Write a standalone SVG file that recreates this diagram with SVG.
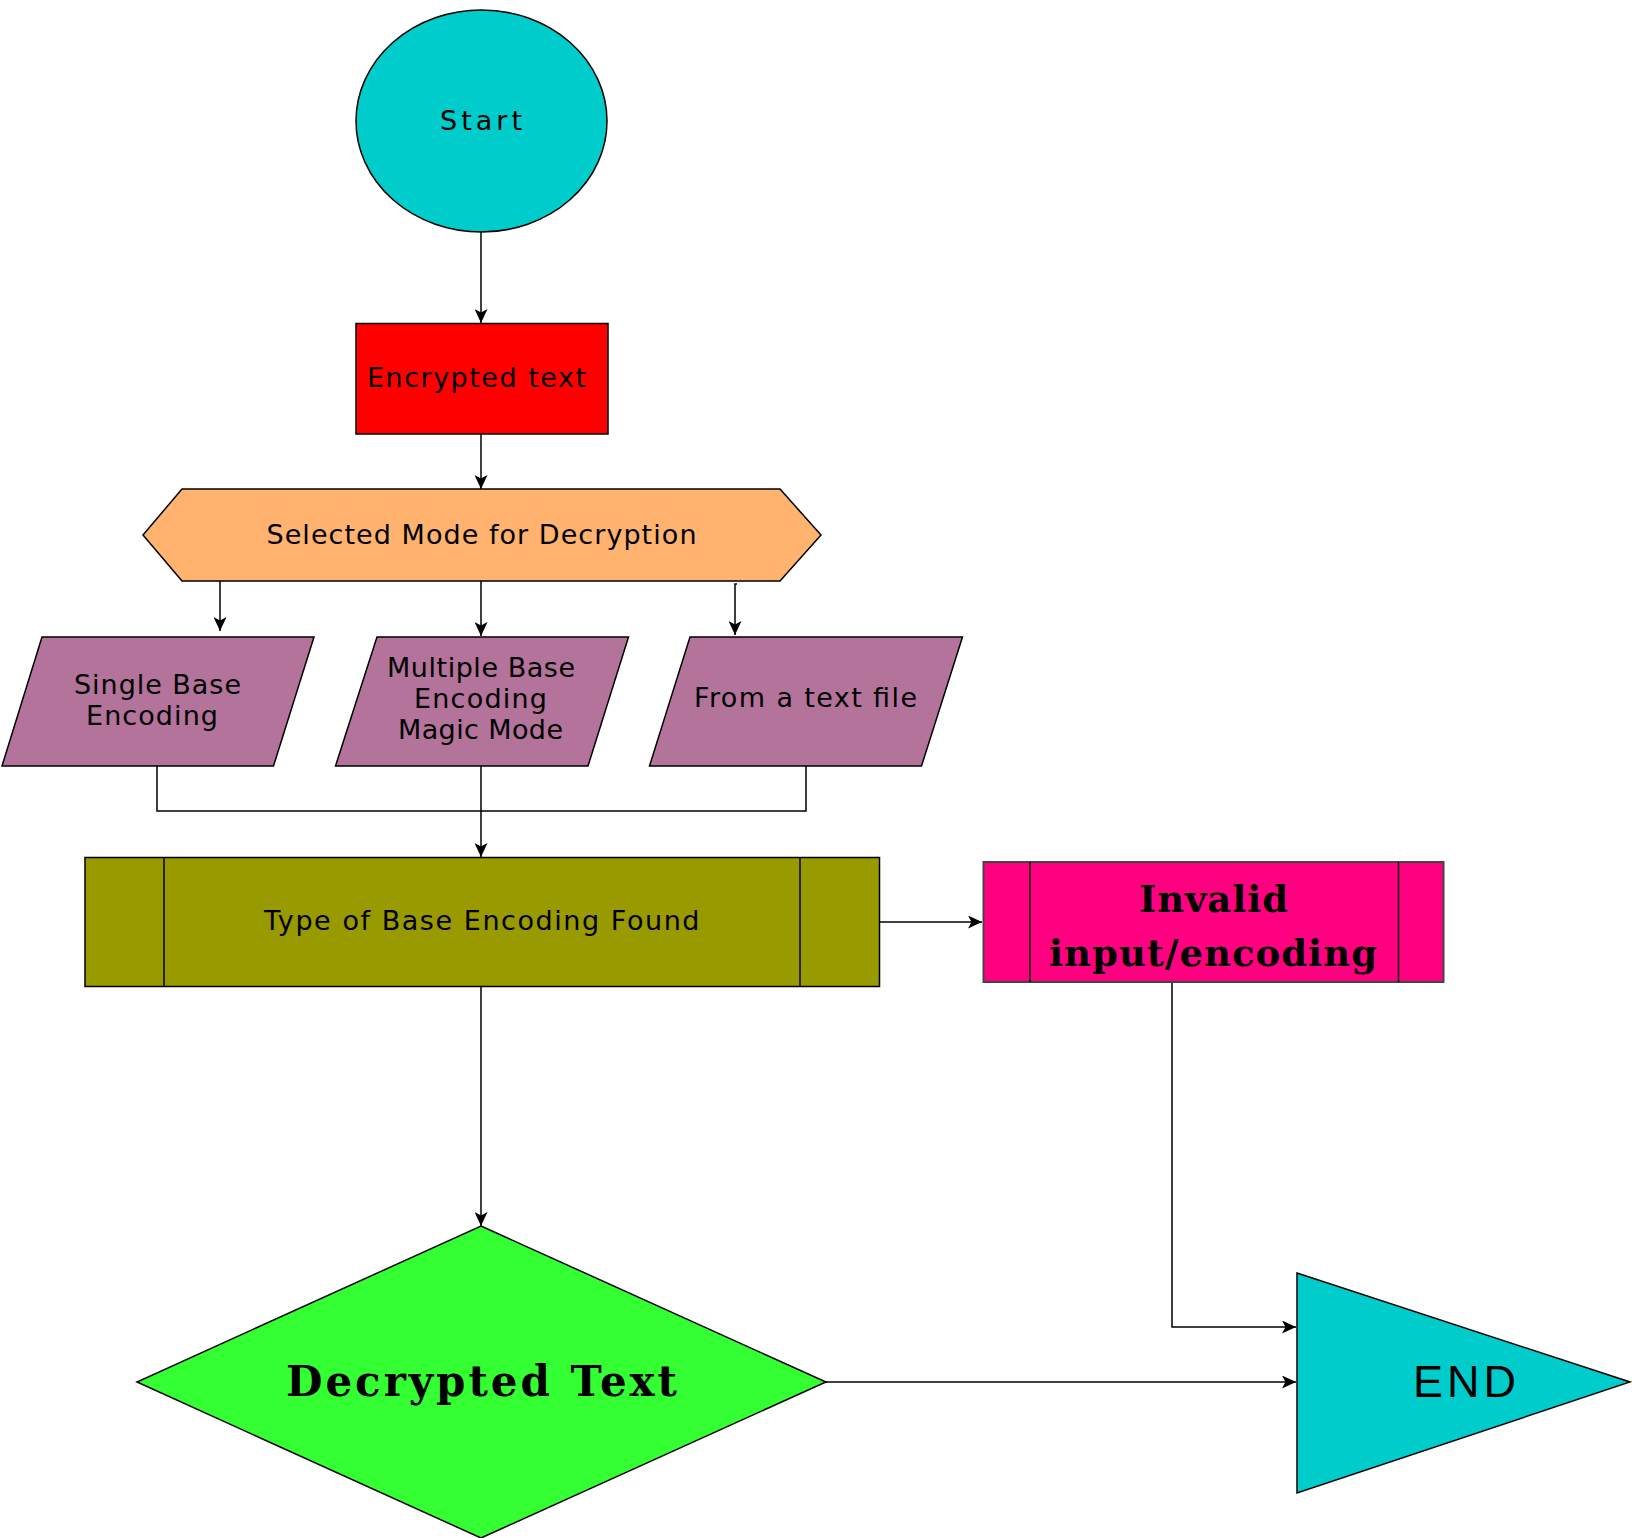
<svg xmlns="http://www.w3.org/2000/svg" width="1632" height="1538" viewBox="0 0 1632 1538">
<style>
.shape{stroke:#000;stroke-width:1.5}
.sans{font-family:"DejaVu Sans","Verdana",sans-serif;font-size:27px;fill:#000}
.bold{font-family:"DejaVu Serif","Liberation Serif",serif;font-weight:bold;fill:#000}
.conn{fill:none;stroke:#000;stroke-width:1.5}
</style>
<defs>
<marker id="arr" markerUnits="userSpaceOnUse" markerWidth="15" markerHeight="13" refX="14" refY="6.5" orient="auto">
<path d="M0,0 L14,6.5 L0,13 L3.5,6.5 z" fill="#000"/>
</marker>
</defs>
<rect width="1632" height="1538" fill="#fff"/>
<g id="connectors">
<path class="conn" d="M481,232 V323" marker-end="url(#arr)"/>
<path class="conn" d="M481,434 V489" marker-end="url(#arr)"/>
<path class="conn" d="M220,581 V631" marker-end="url(#arr)"/>
<path class="conn" d="M481,581 V636" marker-end="url(#arr)"/>
<path class="conn" d="M737,584 H735 V635" marker-end="url(#arr)"/>
<path class="conn" d="M157,766 V811 H806 V766"/>
<path class="conn" d="M481,766 V857" marker-end="url(#arr)"/>
<path class="conn" d="M879.5,922 H982" marker-end="url(#arr)"/>
<path class="conn" d="M481,987 V1226" marker-end="url(#arr)"/>
<path class="conn" d="M1172,982 V1327 H1296" marker-end="url(#arr)"/>
<path class="conn" d="M826,1382 H1296" marker-end="url(#arr)"/>
</g>
<g id="start">
<ellipse class="shape" cx="481.5" cy="121" rx="125.5" ry="111" fill="#00CCCC"/>
<text class="sans" x="440" y="130" textLength="82" lengthAdjust="spacing">Start</text>
</g>
<g id="encrypted">
<rect class="shape" x="356" y="323.5" width="252" height="110.5" fill="#FF0000"/>
<text class="sans" x="367" y="387" textLength="219" lengthAdjust="spacing">Encrypted text</text>
</g>
<g id="mode">
<polygon class="shape" points="143,535 182,489 780,489 821,535 780,581 182,581" fill="#FFB36F"/>
<text class="sans" x="266.5" y="544" textLength="430" lengthAdjust="spacing">Selected Mode for Decryption</text>
</g>
<g id="single">
<polygon class="shape" points="42,637 314,637 273.5,766 2,766" fill="#B3739B"/>
<text class="sans" x="74" y="694" textLength="167" lengthAdjust="spacing">Single Base</text>
<text class="sans" x="86" y="725" textLength="132" lengthAdjust="spacing">Encoding</text>
</g>
<g id="multiple">
<polygon class="shape" points="377,637 628.5,637 588,766 335.5,766" fill="#B3739B"/>
<text class="sans" x="387" y="677" textLength="188" lengthAdjust="spacing">Multiple Base</text>
<text class="sans" x="414" y="708" textLength="133" lengthAdjust="spacing">Encoding</text>
<text class="sans" x="398" y="739" textLength="165" lengthAdjust="spacing">Magic Mode</text>
</g>
<g id="file">
<polygon class="shape" points="690,637 962.5,637 921.5,766 649.5,766" fill="#B3739B"/>
<text class="sans" x="694" y="707" textLength="223" lengthAdjust="spacing">From a text file</text>
</g>
<g id="type">
<rect class="shape" x="85" y="857.5" width="794.5" height="129" fill="#999900"/>
<line class="shape" x1="164" y1="857.5" x2="164" y2="986.5"/>
<line class="shape" x1="800" y1="857.5" x2="800" y2="986.5"/>
<text class="sans" x="264" y="930" textLength="435.5" lengthAdjust="spacing">Type of Base Encoding Found</text>
</g>
<g id="invalid">
<rect x="983.5" y="862" width="460" height="120" fill="#FF0080" stroke="#444" stroke-width="2"/>
<line class="shape" x1="1030" y1="862" x2="1030" y2="982"/>
<line class="shape" x1="1398.5" y1="862" x2="1398.5" y2="982"/>
<text class="bold" x="1139" y="912" font-size="37" textLength="149" lengthAdjust="spacing">Invalid</text>
<text class="bold" x="1049" y="966" font-size="37" textLength="328" lengthAdjust="spacing">input/encoding</text>
</g>
<g id="decrypted">
<polygon class="shape" points="481,1226 826,1382 481,1538 137,1382" fill="#33FF33"/>
<text class="bold" x="286" y="1396" font-size="42" textLength="391" lengthAdjust="spacing">Decrypted Text</text>
</g>
<g id="end">
<polygon class="shape" points="1297,1273 1630,1382 1297,1493" fill="#00CCCC"/>
<text x="1413" y="1397" font-family="Liberation Sans, Arial, sans-serif" font-size="45" textLength="103" lengthAdjust="spacing" fill="#000">END</text>
</g>
</svg>
